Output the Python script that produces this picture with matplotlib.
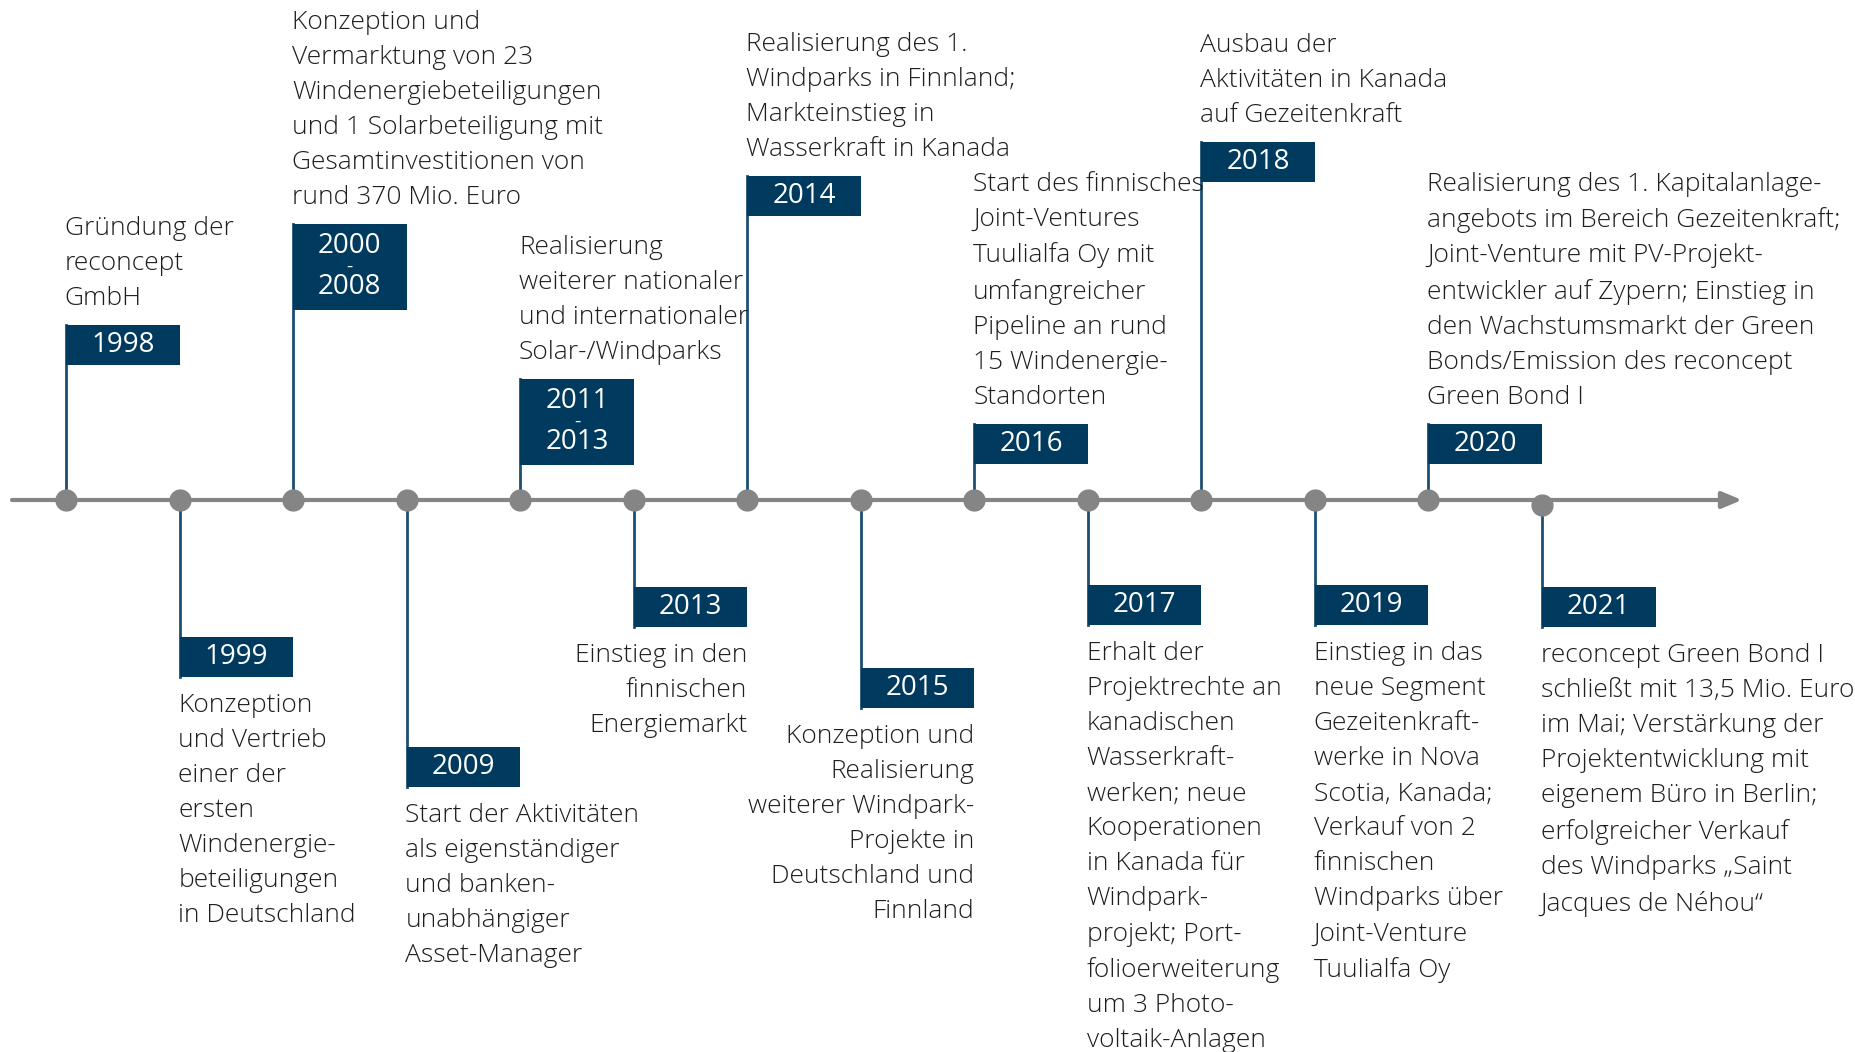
# Timeline reconcept 1998 - 2021

import matplotlib.pyplot as plt
from matplotlib.patches import Rectangle

years = ["1998", "1999", "2000\n2008", "2009", "2011\n2013", "2013", "2014",
         "2015", "2016", "2017", "2018", "2019", "2020", "2021"]

texts = [
    "Gründung der\nreconcept\nGmbH",
    "Konzeption\nund Vertrieb\neiner der\nersten\nWindenergie-\nbeteiligungen\nin Deutschland",
    "Konzeption und\nVermarktung von 23\nWindenergiebeteiligungen\nund 1 Solarbeteiligung mit\nGesamtinvestitionen von\nrund 370 Mio. Euro",
    "Start der Aktivitäten\nals eigenständiger\nund banken-\nunabhängiger\nAsset-Manager",
    "Realisierung\nweiterer nationaler\nund internationaler\nSolar-/Windparks",
    "Einstieg in den\nfinnischen\nEnergiemarkt",
    "Realisierung des 1.\nWindparks in Finnland;\nMarkteinstieg in\nWasserkraft in Kanada",
    "Konzeption und\nRealisierung\nweiterer Windpark-\nProjekte in\nDeutschland und\nFinnland",
    "Start des finnisches\nJoint-Ventures\nTuulialfa Oy mit\numfangreicher\nPipeline an rund\n15 Windenergie-\nStandorten",
    "Erhalt der\nProjektrechte an\nkanadischen\nWasserkraft-\nwerken; neue\nKooperationen\nin Kanada für\nWindpark-\nprojekt; Port-\nfolioerweiterung\num 3 Photo-\nvoltaik-Anlagen",
    "Ausbau der\nAktivitäten in Kanada\nauf Gezeitenkraft",
    "Einstieg in das\nneue Segment\nGezeitenkraft-\nwerke in Nova\nScotia, Kanada;\nVerkauf von 2\nfinnischen\nWindparks über\nJoint-Venture\nTuulialfa Oy",
    "Realisierung des 1. Kapitalanlage-\nangebots im Bereich Gezeitenkraft;\nJoint-Venture mit PV-Projekt-\nentwickler auf Zypern; Einstieg in\nden Wachstumsmarkt der Green\nBonds/Emission des reconcept\nGreen Bond I",
    "reconcept Green Bond I\nschließt mit 13,5 Mio. Euro\nim Mai; Verstärkung der\nProjektentwicklung mit\neigenem Büro in Berlin;\nerfolgreicher Verkauf\ndes Windparks „Saint\nJacques de Néhou“",
]

# layout: box top edge (px from top) for each event, text alignment
box_top = [325, 637, 224, 747, 379, 587, 176, 668, 424, 585, 142, 585, 424, 587]
right_aligned = [False, False, False, False, False, True, False,
                 True, False, False, False, False, False, False]

navy = "#003a5f"
grey = "#858585"
axis_y = 500

fig = plt.figure(figsize=(18.56, 10.52), dpi=100)
ax = fig.add_axes([0, 0, 1, 1])
step = (1542 - 66) / 13
ax.set_xlim(-66 / step, (1856 - 66) / step)
ax.set_ylim(1052, 0)
ax.axis("off")

font = dict(family=["Open Sans", "DejaVu Sans"], fontweight="light")
fs = 19
ls = 1.53

# main axis with arrow
ax.annotate("", xy=(1742 / step - 66 / step, axis_y), xytext=(12 / step - 66 / step, axis_y),
            arrowprops=dict(arrowstyle="-|>,head_length=1.2,head_width=0.5", color=grey,
                            lw=3, shrinkA=0, shrinkB=0))

for i, (yr, txt) in enumerate(zip(years, texts)):
    up = i % 2 == 0
    double = "\n" in yr
    h = 86 if double else 40
    top = box_top[i]
    dot_y = axis_y + (5 if i == 13 else 0)

    # stem
    end = top if up else top + h
    ax.plot([i, i], [dot_y, end], color="#1d4f72", lw=2, zorder=1)
    ax.add_patch(Rectangle((i, top), 1.0, h, facecolor=navy, edgecolor="none", zorder=2))
    ax.plot(i, dot_y, "o", color=grey, ms=15, zorder=3)

    yfont = dict(color="white", ha="center", va="center", fontsize=20,
                 family=["Open Sans", "DejaVu Sans"], zorder=4)
    if double:
        a, b = yr.split("\n")
        ax.text(i + 0.5, top + h * 0.26, a, **yfont)
        ax.text(i + 0.5, top + h * 0.5, "-", **{**yfont, "fontsize": 14})
        ax.text(i + 0.5, top + h * 0.73, b, **yfont)
    else:
        ax.text(i + 0.5, top + h / 2, yr, **yfont)

    if up:
        ax.text(i - 0.01, top - 14, txt, ha="left", va="bottom", fontsize=fs,
                color="#1e1e1e", linespacing=ls, **font)
    elif right_aligned[i]:
        ax.text(i + 1.0, top + h + 16, txt, ha="right", va="top", fontsize=fs,
                color="#1e1e1e", linespacing=ls, **font)
    else:
        ax.text(i - 0.01, top + h + 16, txt, ha="left", va="top", fontsize=fs,
                color="#1e1e1e", linespacing=ls, **font)

fig.savefig("out.png", dpi=100)
